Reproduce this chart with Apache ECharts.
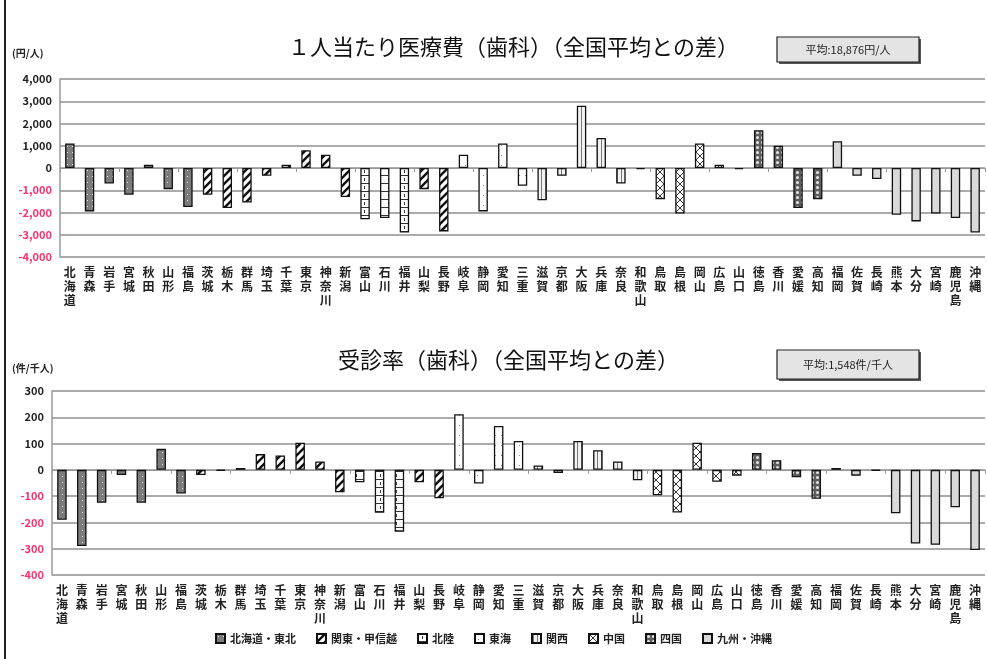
<!DOCTYPE html>
<html>
<head>
<meta charset="utf-8">
<script src="https://cdn.jsdelivr.net/npm/echarts@6/dist/echarts.min.js"></script>
<style>
html, body { margin: 0; padding: 0; background: #fff; }
#main { width: 987px; height: 659px; }
</style>
</head>
<body>
<div id="main"></div>
<script>
// 都道府県
var prefs = ['北海道', '青森', '岩手', '宮城', '秋田', '山形', '福島', '茨城', '栃木', '群馬', '埼玉', '千葉', '東京', '神奈川', '新潟',
	'富山', '石川', '福井', '山梨', '長野', '岐阜', '静岡', '愛知', '三重', '滋賀', '京都', '大阪', '兵庫', '奈良', '和歌山',
	'鳥取', '島根', '岡山', '広島', '山口', '徳島', '香川', '愛媛', '高知', '福岡', '佐賀', '長崎', '熊本', '大分', '宮崎', '鹿児島', '沖縄'];

var regions = ['北海道・東北', '関東・甲信越', '北陸', '東海', '関西', '中国', '四国', '九州・沖縄'];

// 各都道府県の地域番号
var prefRegion = [0, 0, 0, 0, 0, 0, 0, 1, 1, 1, 1, 1, 1, 1, 1,
	2, 2, 2, 1, 1, 3, 3, 3, 3, 4, 4, 4, 4, 4, 4,
	5, 5, 5, 5, 5, 6, 6, 6, 6, 7, 7, 7, 7, 7, 7, 7, 7];

// 1人当たり医療費（歯科） 全国平均との差 (円/人)
var costDiff = [1100, -1950, -700, -1200, 150, -950, -1750, -1200, -1800, -1550, -350, 150, 800, 600, -1300,
	-2300, -2250, -2900, -950, -2850, 600, -1950, 1100, -800, -1450, -350, 2800, 1350, -700, -50,
	-1400, -2050, 1100, 150, -50, 1700, 1000, -1800, -1400, 1200, -350, -500, -2100, -2400, -2050, -2250, -2900];

// 受診率（歯科） 全国平均との差 (件/千人)
var rateDiff = [-190, -290, -125, -20, -125, 80, -90, -20, -3, 7, 60, 55, 103, 32, -85,
	-47, -163, -235, -47, -108, 212, -52, 167, 110, 17, -12, 110, 75, 32, -40,
	-97, -162, 103, -45, -22, 64, 37, -28, -110, 7, -22, -3, -165, -280, -285, -142, -305];

var costTicks = { min: -4000, max: 4000, interval: 1000 };
var rateTicks = { min: -400, max: 300, interval: 100 };

var costAvg = '平均:18,876円/人';
var rateAvg = '平均:1,548件/千人';

var FONT = '"Noto Sans CJK JP", "Noto Sans", sans-serif';

// 塗りつぶしパターン
function mkPattern(w, h, draw) {
	var c = document.createElement('canvas');
	c.width = w;
	c.height = h;
	var ctx = c.getContext('2d');
	draw(ctx, w, h);
	return { image: c, repeat: 'repeat' };
}

var patterns = [
	// 北海道・東北 : 濃いグレーに白点
	mkPattern(5, 6, function (g, w, h) {
		g.fillStyle = '#7c7c7c'; g.fillRect(0, 0, w, h);
		g.fillStyle = '#e8e8e8'; g.fillRect(2, 2, 1, 1);
	}),
	// 関東・甲信越 : 斜線
	mkPattern(8, 8, function (g, w, h) {
		g.fillStyle = '#fff'; g.fillRect(0, 0, w, h);
		g.strokeStyle = '#111'; g.lineWidth = 2.4;
		g.beginPath();
		g.moveTo(-2, 10); g.lineTo(10, -2);
		g.moveTo(-2, 2); g.lineTo(2, -2);
		g.moveTo(6, 10); g.lineTo(10, 6);
		g.stroke();
	}),
	// 北陸 : レンガ
	mkPattern(8, 8, function (g, w, h) {
		g.fillStyle = '#fff'; g.fillRect(0, 0, w, h);
		g.fillStyle = '#333';
		g.fillRect(0, 7, 8, 1);
		g.fillRect(4, 2, 1, 3);
	}),
	// 東海 : 白に薄い点
	mkPattern(6, 10, function (g, w, h) {
		g.fillStyle = '#fff'; g.fillRect(0, 0, w, h);
		g.fillStyle = '#888'; g.fillRect(3, 5, 1, 1);
	}),
	// 関西 : 縦線
	mkPattern(4, 4, function (g, w, h) {
		g.fillStyle = '#f2f2f2'; g.fillRect(0, 0, w, h);
		g.fillStyle = '#777'; g.fillRect(1, 0, 1, h);
	}),
	// 中国 : 格子斜線
	mkPattern(8, 8, function (g, w, h) {
		g.fillStyle = '#fff'; g.fillRect(0, 0, w, h);
		g.strokeStyle = '#333'; g.lineWidth = 1;
		g.beginPath();
		g.moveTo(0, 0); g.lineTo(8, 8);
		g.moveTo(8, 0); g.lineTo(0, 8);
		g.stroke();
	}),
	// 四国 : 濃い地に白丸
	mkPattern(5, 5, function (g, w, h) {
		g.fillStyle = '#5e5e5e'; g.fillRect(0, 0, w, h);
		g.fillStyle = '#e6e6e6';
		g.beginPath(); g.arc(2.5, 2.5, 1.5, 0, Math.PI * 2); g.fill();
	}),
	// 九州・沖縄 : 薄いグレー
	'#d9d9d9'
];

function verticalName(v) {
	return v.split('').join('\n');
}

function yLabelColor(v) {
	return Number(v) < 0 ? '#ff2d6f' : '#222';
}

function makeSeries(values, xi, yi) {
	return regions.map(function (name, r) {
		return {
			name: name,
			type: 'bar',
			stack: 'g' + yi,
			xAxisIndex: xi,
			yAxisIndex: yi,
			barWidth: '48%',
			data: values.map(function (v, i) { return prefRegion[i] === r ? v : '-'; }),
			itemStyle: {
				color: patterns[r],
				borderColor: '#111',
				borderWidth: 1.3
			}
		};
	});
}

function makeXAxes(gi) {
	return [{
		type: 'category',
		gridIndex: gi,
		data: prefs,
		axisLine: { onZero: true, lineStyle: { color: '#999', width: 1 } },
		axisTick: { show: true, length: 4, lineStyle: { color: '#999' } },
		axisLabel: { show: false }
	}, {
		type: 'category',
		gridIndex: gi,
		data: prefs,
		position: 'bottom',
		axisLine: { show: false, onZero: false },
		axisTick: { show: false },
		axisLabel: {
			interval: 0,
			margin: 8,
			formatter: verticalName,
			fontFamily: FONT,
			fontSize: 12,
			fontWeight: 'bold',
			lineHeight: 14,
			color: '#222',
			verticalAlign: 'top'
		}
	}];
}

function makeYAxis(gi, t) {
	return {
		type: 'value',
		gridIndex: gi,
		min: t.min,
		max: t.max,
		interval: t.interval,
		axisLine: { show: true, lineStyle: { color: '#999', width: 1.5 } },
		axisTick: { show: false },
		splitLine: { lineStyle: { color: '#8f8f8f', width: 1.6 } },
		axisLabel: {
			fontFamily: FONT,
			fontSize: 11,
			fontWeight: 'bold',
			margin: 8,
			color: yLabelColor,
			formatter: function (v) { return v.toLocaleString('en-US'); }
		}
	};
}

function avgBox(x, y, w, h, text) {
	return {
		type: 'group',
		children: [{
			type: 'rect',
			shape: { x: x + 2, y: y + 2, width: w, height: h },
			style: { fill: '#555' }
		}, {
			type: 'rect',
			shape: { x: x, y: y, width: w, height: h },
			style: { fill: '#e4e4e4', stroke: '#222', lineWidth: 1.2 }
		}, {
			type: 'text',
			x: x + w / 2,
			y: y + h / 2,
			style: {
				text: text,
				fill: '#222',
				font: '11px ' + FONT,
				align: 'center',
				verticalAlign: 'middle'
			}
		}]
	};
}

var myChart = echarts.init(document.getElementById('main'));

var option = {
	backgroundColor: '#fff',
	animation: false,
	textStyle: { fontFamily: FONT },
	title: [{
		text: '１人当たり医療費（歯科）（全国平均との差）',
		left: 283,
		top: 31,
		textStyle: { fontFamily: FONT, fontSize: 22, fontWeight: 'normal', color: '#111' }
	}, {
		text: '受診率（歯科）（全国平均との差）',
		left: 333,
		top: 344,
		textStyle: { fontFamily: FONT, fontSize: 22, fontWeight: 'normal', color: '#111' }
	}],
	legend: {
		data: regions,
		left: 'center',
		bottom: 10,
		icon: 'rect',
		itemWidth: 9,
		itemHeight: 9,
		itemGap: 20,
		textStyle: { fontFamily: FONT, fontSize: 11, fontWeight: 'bold', color: '#222' }
	},
	grid: [
		{ left: 60, right: 2, top: 79, height: 178 },
		{ left: 52, right: 2, top: 391, height: 184 }
	],
	xAxis: makeXAxes(0).concat(makeXAxes(1)),
	yAxis: [makeYAxis(0, costTicks), makeYAxis(1, rateTicks)],
	series: makeSeries(costDiff, 0, 0).concat(makeSeries(rateDiff, 2, 1)),
	graphic: [
		{
			type: 'line',
			shape: { x1: 5, y1: 0, x2: 5, y2: 659 },
			style: { stroke: '#222', lineWidth: 2 }
		},
		{
			type: 'text', x: 12, y: 48,
			style: { text: '(円/人)', font: 'bold 10px ' + FONT, fill: '#222' }
		},
		{
			type: 'text', x: 12, y: 363,
			style: { text: '(件/千人)', font: 'bold 10px ' + FONT, fill: '#222' }
		},
		avgBox(777, 37, 142, 25, costAvg),
		avgBox(777, 350, 142, 29, rateAvg)
	]
};

myChart.setOption(option);
</script>
</body>
</html>
